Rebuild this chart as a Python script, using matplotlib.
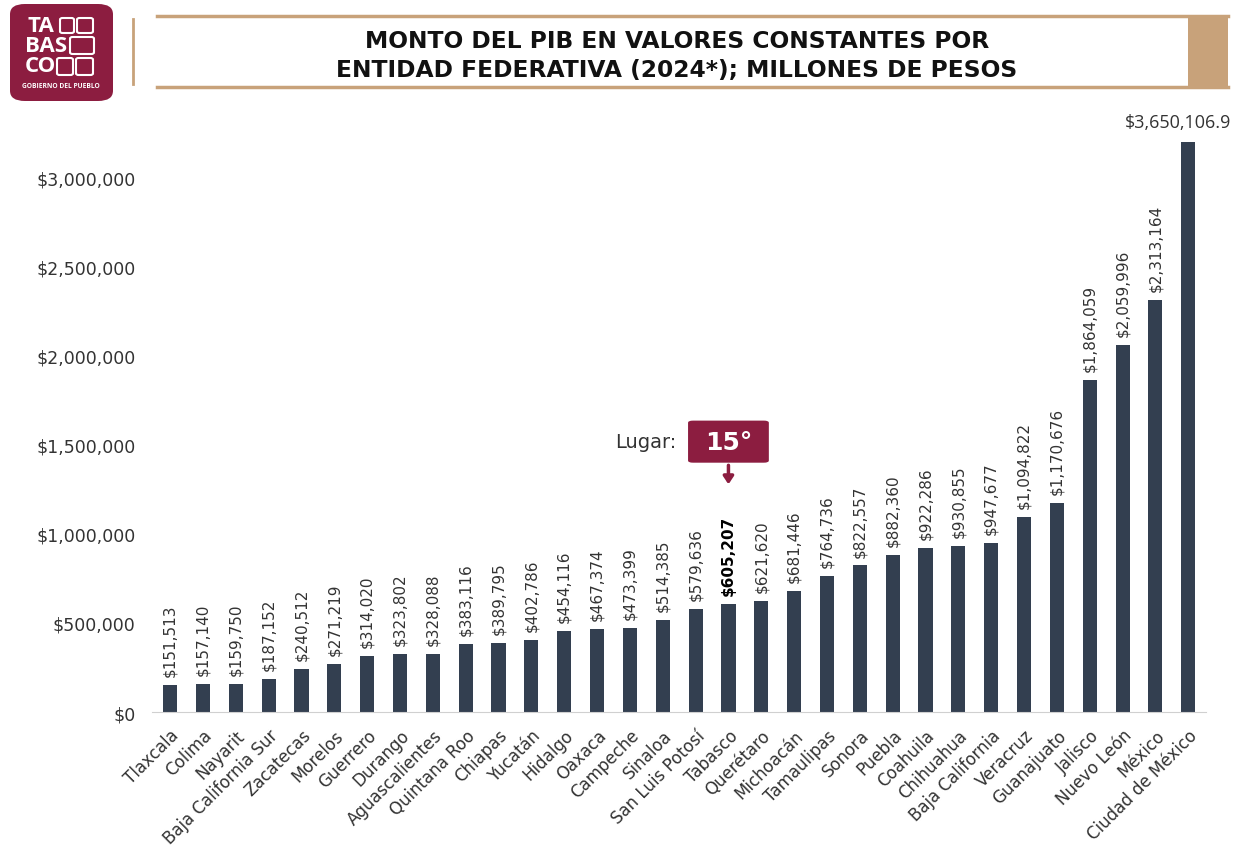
import numpy as np
import matplotlib.pyplot as plt
from matplotlib.patches import FancyBboxPatch, Rectangle
from matplotlib.ticker import FuncFormatter

plt.rcParams['font.family'] = ['DejaVu Sans']

estados = ['Tlaxcala', 'Colima', 'Nayarit', 'Baja California Sur', 'Zacatecas',
           'Morelos', 'Guerrero', 'Durango', 'Aguascalientes', 'Quintana Roo',
           'Chiapas', 'Yucatán', 'Hidalgo', 'Oaxaca', 'Campeche', 'Sinaloa',
           'San Luis Potosí', 'Tabasco', 'Querétaro', 'Michoacán', 'Tamaulipas',
           'Sonora', 'Puebla', 'Coahuila', 'Chihuahua', 'Baja California',
           'Veracruz', 'Guanajuato', 'Jalisco', 'Nuevo León', 'México',
           'Ciudad de México']
pib = [151513, 157140, 159750, 187152, 240512, 271219, 314020, 323802,
       328088, 383116, 389795, 402786, 454116, 467374, 473399, 514385,
       579636, 605207, 621620, 681446, 764736, 822557, 882360, 922286,
       930855, 947677, 1094822, 1170676, 1864059, 2059996, 2313164,
       3650106.9]
destacado = 'Tabasco'
lugar = '15°'

maroon = '#8c1d40'
tan = '#c8a27a'
bar_color = '#333f50'
txt = '#333333'

fig = plt.figure(figsize=(12.36, 8.54), dpi=100)
ax = fig.add_axes([0.123, 0.165, 0.853, 0.668])

x = np.arange(len(estados))
ax.bar(x, pib, width=0.43, color=bar_color, zorder=2)
ax.set_xlim(-0.55, len(estados) - 0.45)
ax.set_ylim(0, 3200000)
ax.set_yticks(np.arange(0, 3000001, 500000))
ax.yaxis.set_major_formatter(FuncFormatter(lambda v, p: f'${v:,.0f}'))
ax.tick_params(axis='y', length=0, labelsize=12.5, labelcolor=txt, pad=12)
ax.set_xticks(x)
ax.set_xticklabels(estados, rotation=45, ha='right', rotation_mode='anchor',
                   fontsize=12, color=txt)
ax.tick_params(axis='x', length=0, pad=10)
for s in ['top', 'right', 'left']:
    ax.spines[s].set_visible(False)
ax.spines['bottom'].set_color('#d0d0d0')

ymax = ax.get_ylim()[1]
for xi, (nombre, v) in enumerate(zip(estados, pib)):
    if v > ymax:
        ax.text(xi - 0.3, ymax + 60000, f'${v:,.1f}', ha='center', va='bottom',
                fontsize=13, color=txt, clip_on=False, family='Open Sans')
        continue
    bold = nombre == destacado
    ax.text(xi, v + 50000, f'${v:,.0f}', rotation=90, ha='center', va='bottom',
            fontsize=11, color='black' if bold else txt,
            fontweight='bold' if bold else 'normal')

# marcador de lugar
i_tab = estados.index(destacado)
ax.add_patch(FancyBboxPatch((i_tab - 1.23, 1399000), 2.46, 236000,
                            boxstyle='round,pad=0,rounding_size=0.15',
                            mutation_aspect=80000, fc=maroon, ec='none',
                            zorder=5, clip_on=False))
ax.text(i_tab, 1517000, lugar, ha='center', va='center', color='white',
        fontsize=18, fontweight='bold', zorder=6)
ax.annotate('', xy=(i_tab, 1262000), xytext=(i_tab, 1400000),
            arrowprops=dict(arrowstyle='-|>,head_width=0.3,head_length=0.45',
                            color=maroon, lw=2.5), zorder=5)
ax.text(i_tab - 1.6, 1517000, 'Lugar:', ha='right', va='center',
        fontsize=14, color=txt)

# encabezado
fig.add_artist(Rectangle((157 / 1236, 1 - 88 / 854), (1228 - 157) / 1236,
                         71 / 854, transform=fig.transFigure, fc='white',
                         ec='none'))
for yy in [17, 88]:
    fig.add_artist(plt.Line2D([157 / 1236, 1228 / 1236], [1 - yy / 854] * 2,
                              color=tan, lw=2.5, transform=fig.transFigure))
fig.add_artist(Rectangle((1188 / 1236, 1 - 88 / 854), 40 / 1236, 71 / 854,
                         transform=fig.transFigure, fc=tan, ec='none'))
fig.add_artist(plt.Line2D([133 / 1236] * 2, [1 - 20 / 854, 1 - 85 / 854],
                          color=tan, lw=2, transform=fig.transFigure))
fig.text(677 / 1236, 1 - 56 / 854,
         'MONTO DEL PIB EN VALORES CONSTANTES POR\n'
         'ENTIDAD FEDERATIVA (2024*); MILLONES DE PESOS',
         ha='center', va='center', fontsize=16.8, fontweight='bold',
         color='#111111', linespacing=1.3)

# logo
fig.add_artist(FancyBboxPatch((10 / 1236, 1 - 102 / 854), 103 / 1236, 97 / 854,
                              boxstyle='round,pad=0,rounding_size=0.012',
                              transform=fig.transFigure, fc=maroon, ec='none'))
for px, py, w in [(27, 27, 'TA'), (25, 46, 'BAS'), (25, 67, 'CO')]:
    fig.text(px / 1236, 1 - py / 854, w, ha='left', va='center',
             fontsize=16, fontweight='bold', color='white', family='Open Sans')
fig.text(61 / 1236, 1 - 87 / 854, 'GOBIERNO DEL PUEBLO', ha='center',
         va='center', fontsize=4.8, fontweight='bold', color='white',
         family='Open Sans')
for (lx, ly, lw_, lh) in [(60, 19, 14, 15), (77, 19, 16, 15), (70, 38, 24, 17),
                          (57, 59, 16, 17), (76, 59, 17, 17)]:
    fig.add_artist(FancyBboxPatch((lx / 1236, 1 - (ly + lh) / 854), lw_ / 1236,
                                  lh / 854,
                                  boxstyle='round,pad=0,rounding_size=0.002',
                                  transform=fig.transFigure, fc='none',
                                  ec='white', lw=1.5))

fig.savefig('out.png', dpi=100)
